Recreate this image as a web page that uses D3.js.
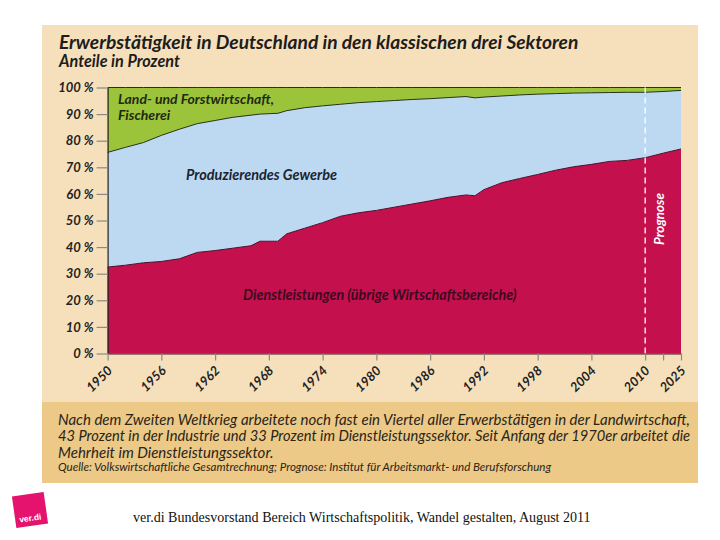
<!DOCTYPE html>
<html><head><meta charset="utf-8">
<script src="https://cdn.jsdelivr.net/npm/d3@7"></script>
<style>body{margin:0;background:#fff} svg{display:block}</style>
</head><body><svg id="c" width="720" height="540"></svg>
<script>
// ---- data (shares in percent) ----
const years = [1950,1952,1954,1956,1958,1960,1962,1964,1966,1967,1969,1970,1972,1974,1976,1978,1980,1982,1984,1986,1988,1990,1991,1992,1994,1996,1998,2000,2002,2004,2006,2008,2010,2015,2025];
const services = [32.5,33.2,34.1,34.6,35.6,38.0,38.7,39.6,40.5,42.2,42.2,45.0,47.1,49.2,51.6,52.9,53.8,55.0,56.2,57.4,58.7,59.6,59.3,61.6,64.2,65.8,67.3,68.9,70.2,71.1,72.2,72.6,73.6,75.3,76.9];
const industry = [43.1,44.3,45.2,47.4,48.7,48.4,48.9,49.2,49.1,47.8,48.1,46.3,45.3,43.9,42.1,41.4,40.9,40.1,39.3,38.4,37.5,37.0,36.8,34.8,32.6,31.4,30.2,28.8,27.7,26.9,25.9,25.6,24.6,23.2,22.0];
const agriculture = [24.4,22.5,20.7,18.0,15.7,13.6,12.4,11.2,10.4,10.0,9.7,8.7,7.6,6.9,6.3,5.7,5.3,4.9,4.5,4.2,3.8,3.4,3.9,3.6,3.2,2.8,2.5,2.3,2.1,2.0,1.9,1.8,1.8,1.5,1.1];
const xTickYears = [1950,1956,1962,1968,1974,1980,1986,1992,1998,2004,2010,2015,2025];
const xTickLabels = ["1950","1956","1962","1968","1974","1980","1986","1992","1998","2004","2010","","2025"];
const yTicks = [0,10,20,30,40,50,60,70,80,90,100];
const seriesKeys = ["services","industry","agriculture"];
const seriesLabels = ["Dienstleistungen (übrige Wirtschaftsbereiche)","Produzierendes Gewerbe","Land- und Forstwirtschaft,|Fischerei"];
const forecastYear = 2010;
const title = "Erwerbstätigkeit in Deutschland in den klassischen drei Sektoren";
const subtitle = "Anteile in Prozent";
const noteLines = ["Nach dem Zweiten Weltkrieg arbeitete noch fast ein Viertel aller Erwerbstätigen in der Landwirtschaft,",
 "43 Prozent in der Industrie und 33 Prozent im Dienstleistungssektor. Seit Anfang der 1970er arbeitet die",
 "Mehrheit im Dienstleistungssektor."];
const sourceText = "Quelle: Volkswirtschaftliche Gesamtrechnung; Prognose: Institut für Arbeitsmarkt- und Berufsforschung";
const footerText = "ver.di Bundesvorstand Bereich Wirtschaftspolitik, Wandel gestalten, August 2011";

const table = years.map((y,i)=>({year:y, services:services[i], industry:industry[i], agriculture:agriculture[i]}));

const svg = d3.select("#c");
const FONT = "Lato,'Open Sans',sans-serif";

function fit(sel, target){
  const n = sel.node(); const w = n.getComputedTextLength();
  const fs = parseFloat(sel.attr("font-size"));
  if (w>0) sel.attr("font-size", (fs*target/w).toFixed(2));
  return sel;
}

// panel
svg.append("rect").attr("x",42).attr("y",25).attr("width",656).attr("height",378).attr("fill","#F6E0BC");
svg.append("rect").attr("x",42).attr("y",402).attr("width",656).attr("height",81).attr("fill","#ECC987");

// title
fit(svg.append("text").attr("x",59).attr("y",49).attr("font-family",FONT).attr("font-style","italic")
  .attr("font-weight",700).attr("font-size",15).attr("fill","#1d1d1b").text(title), 520);
fit(svg.append("text").attr("x",59).attr("y",67).attr("font-family",FONT).attr("font-style","italic")
  .attr("font-weight",700).attr("font-size",11.5).attr("fill","#1d1d1b").text(subtitle), 121);

// scales
const L=107.6, R=681, T=87.5, B=353.5;
const u = (R-L)/64;
const x = d3.scaleLinear().domain([1950,2010,2015,2025]).range([L, L+60*u, L+62*u, R]);
const y = d3.scaleLinear().domain([0,100]).range([B,T]);

const stack = d3.stack().keys(seriesKeys)(table);
const colors = {services:"#C5104E", industry:"#BDD9F2", agriculture:"#9CC43B"};
const area = d3.area().x(d=>x(d.data.year)).y0(d=>y(d[0])).y1(d=>y(d[1]));
const g = svg.append("g");
g.selectAll("path.a").data(stack).join("path").attr("class","a")
  .attr("d",area).attr("fill",d=>colors[d.key]);
// boundary lines
const line = d3.line().x(d=>x(d.data.year)).y(d=>y(d[1]));
g.selectAll("path.l").data(stack).join("path").attr("class","l")
  .attr("d",line).attr("fill","none").attr("stroke",(d,i)=> i===0?"#4a0c2a":"#26321a").attr("stroke-width",1);

// forecast divider
g.append("line").attr("x1",x(forecastYear)).attr("x2",x(forecastYear)).attr("y1",y(100)).attr("y2",y(0))
  .attr("stroke","#fff").attr("stroke-width",1.3).attr("stroke-dasharray","6,4");
const pg = g.append("text").attr("transform",`translate(${x(forecastYear)+19},219) rotate(-90)`)
  .attr("text-anchor","middle").attr("font-family",FONT).attr("font-style","italic").attr("font-weight",700)
  .attr("font-size",12).attr("fill","#fff").text("Prognose");
fit(pg,52);

// series labels
const lab = (t,xx,yy,w,col)=>fit(g.append("text").attr("x",xx).attr("y",yy).attr("font-family",FONT)
  .attr("font-style","italic").attr("font-weight",700).attr("font-size",12).attr("fill",col).text(t), w);
const agr = seriesLabels[2].split("|");
const l1 = lab(agr[0],118,104,156,"#1f2a12");
g.append("text").attr("x",118).attr("y",120).attr("font-family",FONT).attr("font-style","italic")
  .attr("font-weight",700).attr("font-size",l1.attr("font-size")).attr("fill","#1f2a12").text(agr[1]);
lab(seriesLabels[1],186,180,151,"#1b2433");
lab(seriesLabels[0],243,300,274,"#3a0a20");

// axes
const ya = svg.append("g").attr("transform",`translate(${L},0)`)
  .call(d3.axisLeft(y).tickValues(yTicks).tickSize(11).tickSizeOuter(0).tickFormat(d=>d+" %"));
ya.select(".domain").attr("stroke","#222").attr("stroke-width",1.2);
ya.selectAll(".tick line").attr("stroke","#8a8a80").attr("stroke-width",1.2);
ya.selectAll(".tick text").attr("x",-14).attr("font-family",FONT).attr("font-style","italic")
  .attr("font-weight",700).attr("font-size",13).attr("fill","#222");

const xa = svg.append("g").attr("transform",`translate(0,${B})`)
  .call(d3.axisBottom(x).tickValues(xTickYears).tickSize(7).tickSizeOuter(0)
    .tickFormat((d,i)=>xTickLabels[i]));
xa.select(".domain").attr("stroke","#3a1020").attr("stroke-width",1.2);
xa.selectAll(".tick line").attr("stroke","#8a8a80").attr("stroke-width",1.2);
xa.selectAll(".tick text").attr("text-anchor","end").attr("transform","translate(5,18) rotate(-45)")
  .attr("x",0).attr("y",0).attr("dy",null).attr("font-family",FONT).attr("font-style","italic")
  .attr("font-weight",700).attr("font-size",13).attr("fill","#222");

// note
const nfs = [];
[424.5,441,457.5].forEach((yy,i)=>{
  const s = svg.append("text").attr("x",58).attr("y",yy).attr("font-family",FONT).attr("font-style","italic")
   .attr("font-size",12).attr("fill","#2a2418").text(noteLines[i]);
  nfs.push(s);
});
fit(nfs[0],632);
const fsN = nfs[0].attr("font-size");
nfs[2].attr("font-size",fsN);
fit(nfs[1],632);
fit(svg.append("text").attr("x",58).attr("y",470.5).attr("font-family",FONT).attr("font-style","italic")
  .attr("font-size",9).attr("fill","#2a2418").text(sourceText), 493);

// footer
fit(svg.append("text").attr("x",133).attr("y",522).attr("font-family","'Liberation Serif','Times New Roman',serif")
  .attr("font-size",14).attr("fill","#111").text(footerText), 458);

// logo
const lg = svg.append("g").attr("transform","translate(30,510) rotate(-8)");
lg.append("rect").attr("x",-16).attr("y",-16).attr("width",32).attr("height",32).attr("fill","#E5126E");
lg.append("text").attr("x",-12).attr("y",11).attr("font-family","'Liberation Sans',Arial,sans-serif")
  .attr("font-weight",700).attr("font-size",8.5).attr("fill","#fff").text("ver.di");
</script></body></html>
